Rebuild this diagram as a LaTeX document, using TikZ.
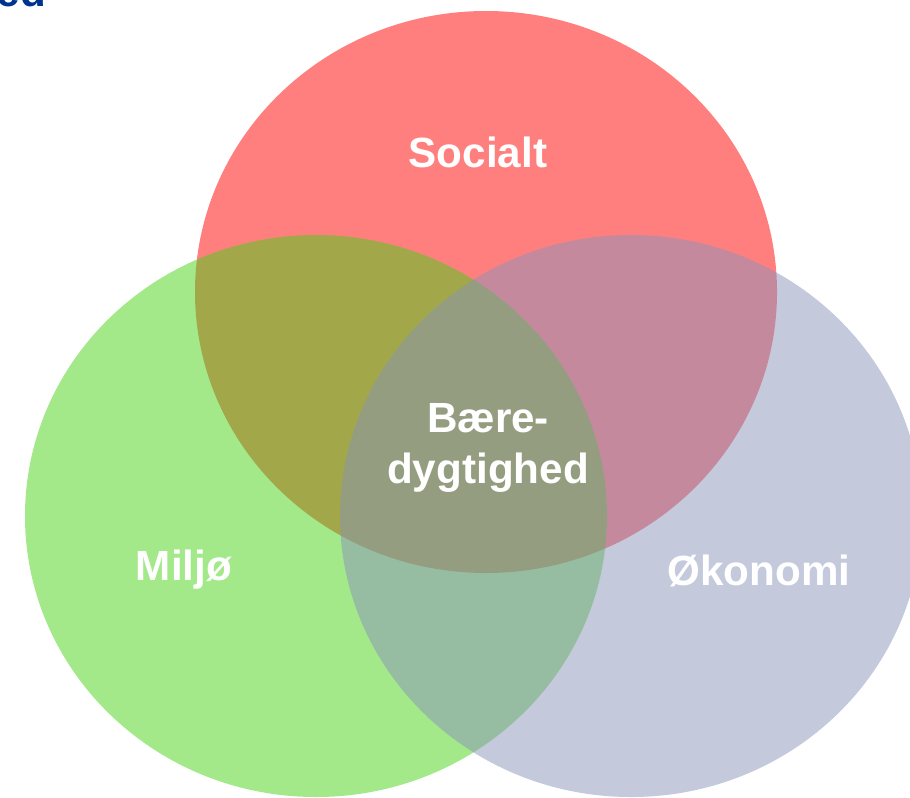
\documentclass[tikz,border=0pt]{standalone}
\usepackage{fontspec}
\setmainfont{Liberation Sans}
\definecolor{rood}{RGB}{255,0,0}
\definecolor{groen}{RGB}{71,211,21}
\definecolor{blaa}{RGB}{137,147,185}
\definecolor{titelblaa}{RGB}{0,51,141}
\tikzset{
	cirkel/.style={fill=#1, fill opacity=0.5},
	etiket/.style={text=white, font=\bfseries\fontsize{12}{14.5}\selectfont, anchor=base, align=center}
}
\begin{document}
\begin{tikzpicture}[x=0.01cm, y=-0.01cm]
	\useasboundingbox (0,0) rectangle (910,797);
	\clip (0,0) rectangle (910,797);

% cirklerne
	\foreach \farve/\x/\y in {rood/486/292, groen/316/516, blaa/631/516}
		\fill[cirkel=\farve] (\x,\y) ellipse [x radius=291, y radius=281];

% tekster
	\node[etiket] (socialt) at (478,167) {Socialt};
	\node[etiket] (miljo) at (184,580) {Miljø};
	\node[etiket] (okonomi) at (759,585) {Økonomi};
	\node[etiket] (baere) at (488,483) {Bære-\\dygtighed};

% rest af titlen
	\node[etiket, text=titelblaa, anchor=base west, inner sep=0pt] (titel) at (-4,6) {ed};
\end{tikzpicture}
\end{document}
